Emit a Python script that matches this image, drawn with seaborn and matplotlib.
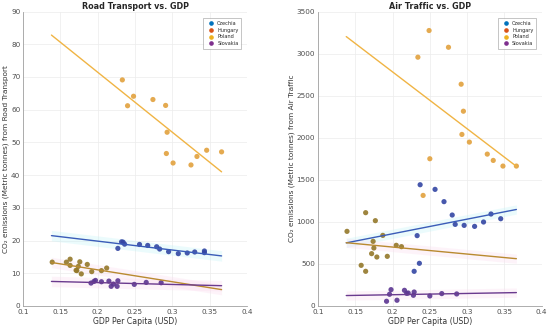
import numpy as np
import pandas as pd
import matplotlib
matplotlib.use("Agg")
import matplotlib.pyplot as plt
import seaborn as sns
from matplotlib.lines import Line2D

# --- data ---
countries = ["Czechia", "Hungary", "Poland", "Slovakia"]

road_cz_x = [0.227, 0.232, 0.234, 0.236, 0.256, 0.267, 0.279, 0.283, 0.295, 0.308, 0.320, 0.330, 0.343, 0.343]
road_cz_y = [17.6, 19.6, 19.5, 18.9, 18.8, 18.5, 18.1, 17.4, 16.6, 16.0, 16.2, 16.5, 16.8, 16.3]
road_hu_x = [0.139, 0.158, 0.163, 0.163, 0.171, 0.172, 0.174, 0.176, 0.178, 0.186, 0.192, 0.205, 0.212]
road_hu_y = [13.4, 13.4, 14.3, 12.4, 10.9, 10.8, 12.1, 13.5, 9.8, 12.7, 10.5, 10.8, 11.6]
road_pl_x = [0.233, 0.240, 0.248, 0.274, 0.291, 0.292, 0.293, 0.301, 0.325, 0.333, 0.346, 0.366]
road_pl_y = [69.1, 61.2, 64.1, 63.1, 61.3, 46.6, 53.1, 43.7, 43.1, 45.7, 47.6, 47.1]
road_sk_x = [0.191, 0.195, 0.197, 0.205, 0.215, 0.218, 0.221, 0.226, 0.227, 0.249, 0.265, 0.285]
road_sk_y = [7.0, 7.5, 7.8, 7.4, 7.6, 6.0, 6.7, 6.0, 7.7, 6.6, 7.2, 7.1]

air_cz_x = [0.229, 0.233, 0.236, 0.237, 0.257, 0.269, 0.280, 0.284, 0.296, 0.310, 0.322, 0.332, 0.345]
air_cz_y = [412, 836, 507, 1441, 1386, 1240, 1081, 970, 958, 946, 998, 1093, 1037]
air_hu_x = [0.139, 0.158, 0.164, 0.164, 0.172, 0.174, 0.175, 0.177, 0.179, 0.187, 0.193, 0.205, 0.212]
air_hu_y = [887, 483, 1109, 412, 622, 768, 689, 1014, 582, 839, 590, 721, 705]
air_pl_x = [0.234, 0.241, 0.249, 0.250, 0.275, 0.292, 0.293, 0.295, 0.303, 0.327, 0.335, 0.348, 0.366]
air_pl_y = [2957, 1314, 3274, 1750, 3075, 2636, 2039, 2315, 1948, 1805, 1730, 1663, 1663]
air_sk_x = [0.192, 0.196, 0.198, 0.206, 0.216, 0.219, 0.221, 0.228, 0.229, 0.250, 0.266, 0.286]
air_sk_y = [56, 139, 194, 68, 186, 150, 154, 127, 166, 119, 147, 143]

# fitted trend lines (start/end values at the GDP range ends)
fit_x = [0.138, 0.366]
road_fit = {"Czechia": [21.5, 15.3], "Hungary": [13.3, 5.0], "Poland": [82.8, 41.0], "Slovakia": [7.5, 6.2]}
air_fit = {"Czechia": [750, 1147], "Hungary": [752, 562], "Poland": [3202, 1660], "Slovakia": [124, 159]}

legend_colors = {"Czechia": "#0072BD", "Hungary": "#D95319", "Poland": "#EDB120", "Slovakia": "#7E2F8E"}
point_colors = {"Czechia": "#3346a3", "Hungary": "#94782a", "Poland": "#e2a13d", "Slovakia": "#5b3591"}
line_colors = {"Czechia": "#3a5cb8", "Hungary": "#b98a30", "Poland": "#f0b444", "Slovakia": "#6a3a8e"}
band_colors = {"Czechia": "#bff3f8", "Hungary": "#fbd9ee", "Poland": None, "Slovakia": "#fbd9ee"}


def make_df(xs, ys):
    rows = []
    for c, x, y in zip(countries, xs, ys):
        rows += [(c, a, b) for a, b in zip(x, y)]
    return pd.DataFrame(rows, columns=["Country", "GDP", "Value"])


road = make_df([road_cz_x, road_hu_x, road_pl_x, road_sk_x], [road_cz_y, road_hu_y, road_pl_y, road_sk_y])
air = make_df([air_cz_x, air_hu_x, air_pl_x, air_sk_x], [air_cz_y, air_hu_y, air_pl_y, air_sk_y])

sns.set_style("whitegrid")
plt.rcParams["font.family"] = ["DejaVu Sans"]

fig = plt.figure(figsize=(5.5, 3.29), dpi=100)
ax1 = fig.add_axes([0.042, 0.070, 0.407, 0.895])
ax2 = fig.add_axes([0.578, 0.070, 0.407, 0.895])


def draw(ax, df, fits, band, title, ylabel, ylim, yticks):
    for c in countries:
        lo, hi = fits[c]
        if band_colors[c]:
            ax.fill_between(fit_x, [lo - band, hi - band], [lo + band, hi + band],
                            color=band_colors[c], alpha=0.3, lw=0, zorder=1)
    sns.scatterplot(data=df, x="GDP", y="Value", hue="Country", palette=point_colors,
                    s=14, alpha=0.9, edgecolor="none", legend=False, ax=ax, zorder=3)
    for c in countries:
        line = pd.DataFrame({"GDP": fit_x, "Value": fits[c]})
        sns.lineplot(data=line, x="GDP", y="Value", color=line_colors[c], lw=1.0, ax=ax, zorder=4)
    ax.set_xlim(0.1, 0.4)
    ax.set_ylim(*ylim)
    ax.set_xticks([0.1, 0.15, 0.2, 0.25, 0.3, 0.35, 0.4])
    ax.set_xticklabels(["0.1", "0.15", "0.2", "0.25", "0.3", "0.35", "0.4"])
    ax.set_yticks(yticks)
    ax.tick_params(labelsize=5.2, colors="#4d4d4d", length=0, pad=2)
    ax.grid(color="#ececec", lw=0.5)
    for s in ["top", "right"]:
        ax.spines[s].set_visible(False)
    for s in ["left", "bottom"]:
        ax.spines[s].set_color("#a0a0a0")
        ax.spines[s].set_linewidth(0.6)
    ax.set_title(title, fontsize=5.8, fontweight="bold", pad=2)
    ax.set_xlabel("GDP Per Capita (USD)", fontsize=5.6, color="#333333", labelpad=1.5)
    ax.set_ylabel(ylabel, fontsize=5.3, color="#333333", labelpad=1.5)
    handles = [Line2D([], [], marker="o", ls="", color=legend_colors[c], markersize=2.3, label=c)
               for c in countries]
    leg = ax.legend(handles=handles, loc="upper right", fontsize=3.6, frameon=True,
                    fancybox=False, borderpad=0.5, handletextpad=0.3, labelspacing=0.35,
                    bbox_to_anchor=(0.985, 0.985))
    leg.get_frame().set_edgecolor("#999999")
    leg.get_frame().set_linewidth(0.5)


draw(ax1, road, road_fit, 1.6, "Road Transport vs. GDP",
     "CO\u2082 emissions (Metric tonnes) from Road Transport", (0, 90), range(0, 91, 10))
draw(ax2, air, air_fit, 55, "Air Traffic vs. GDP",
     "CO\u2082 emissions (Metric tonnes) from Air Traffic", (0, 3500), range(0, 3501, 500))

fig.savefig("out.png", dpi=100)
